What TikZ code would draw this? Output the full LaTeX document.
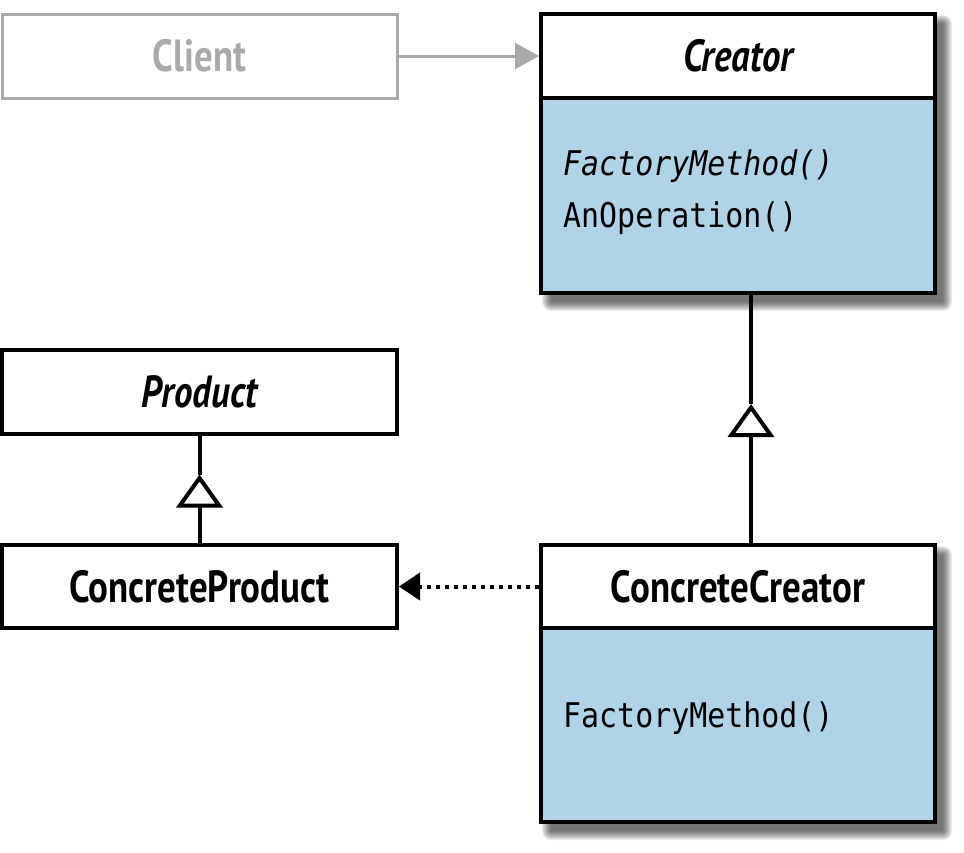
\documentclass[tikz,border=0pt]{standalone}
\usepackage{fontspec}
\usetikzlibrary{arrows.meta,calc,backgrounds}
\newfontfamily\hdrfont[FakeStretch=0.82]{PT Sans}
\newfontfamily\monofont[FakeStretch=0.88]{DejaVu Sans Mono}
\definecolor{umlblue}{RGB}{176,211,232}
\definecolor{clientgray}{RGB}{170,170,170}
\tikzset{
  shdlayer/.style={fill=black, opacity=0.075},
  hdrbox/.style={draw=black, line width=4pt, fill=white, inner sep=0pt, font=\hdrfont\bfseries\fontsize{45}{45}\selectfont},
  bodybox/.style={draw=black, line width=4pt, fill=umlblue, inner sep=0pt},
  clientbox/.style={draw=clientgray, line width=3pt, fill=white, inner sep=0pt, text=clientgray, font=\hdrfont\bfseries\fontsize{45}{45}\selectfont},
  meth/.style={anchor=base west, inner sep=0pt, font=\monofont\fontsize{34}{34}\selectfont},
  conn/.style={draw=black, line width=4pt},
  inh/.style={conn, -{Triangle[open, fill=white, length=33pt, width=46pt]}},
  dep/.style={conn, dash pattern=on 4pt off 5pt, -{Triangle[length=21pt, width=27pt]}},
  assoc/.style={draw=clientgray, line width=3pt, -{Triangle[length=24pt, width=26pt]}}
}
\begin{document}
\begin{tikzpicture}[x=1pt, y=-1pt]
\useasboundingbox (0,0) rectangle (964,852);
% Client
\node[clientbox, minimum width=395pt, minimum height=84pt] (client) at (199.5,56) {Client};
% Creator
\node[hdrbox, minimum width=394pt, minimum height=84pt] (creator) at (738,56) {\itshape Creator};
\node[bodybox, minimum width=394pt, minimum height=195pt] (creatorbody) at (738,195.5) {};
\node[meth] (fm1) at (563,175) {\itshape FactoryMethod()};
\node[meth] (anop) at (563,227) {AnOperation()};
% ConcreteCreator
\node[hdrbox, minimum width=394pt, minimum height=83pt] (ccreator) at (738,586.5) {ConcreteCreator};
\node[bodybox, minimum width=394pt, minimum height=194pt] (ccbody) at (738,725) {};
\node[meth] (fm2) at (563,727) {FactoryMethod()};
% Product
\node[hdrbox, minimum width=395pt, minimum height=84pt] (product) at (199.5,392) {\itshape Product};
\node[hdrbox, minimum width=395pt, minimum height=83pt] (cproduct) at (199.5,586.5) {ConcreteProduct};
% shadows
\begin{scope}[on background layer]
\foreach \r in {0,1,...,9} {
  \fill[shdlayer, rounded corners=\r pt] ($(creator.north west)+(12-\r,12-\r)$) rectangle ($(creatorbody.south east)+(6+\r,7+\r)$);
  \fill[shdlayer, rounded corners=\r pt] ($(ccreator.north west)+(12-\r,12-\r)$) rectangle ($(ccbody.south east)+(6+\r,7+\r)$);
}
\end{scope}
% connectors
\coordinate (cbot) at ($(creatorbody.south)+(13,0)$);
\coordinate (ctop) at ($(ccreator.north)+(13,0)$);
\coordinate (t1) at ($($(cbot)!0.5!(ctop)$)+(0,-15)$);
\draw[inh] (ctop) -- (t1);
\draw[conn] (t1) -- (cbot);
\coordinate (t2) at ($($(product.south)!0.5!(cproduct.north)$)+(0,-15)$);
\draw[inh] (cproduct.north) -- (t2);
\draw[conn] (t2) -- (product.south);
\draw[dep] (ccreator.west) -- (cproduct.east);
\draw[assoc] (client.east) -- (creator.west);
\end{tikzpicture}
\end{document}
